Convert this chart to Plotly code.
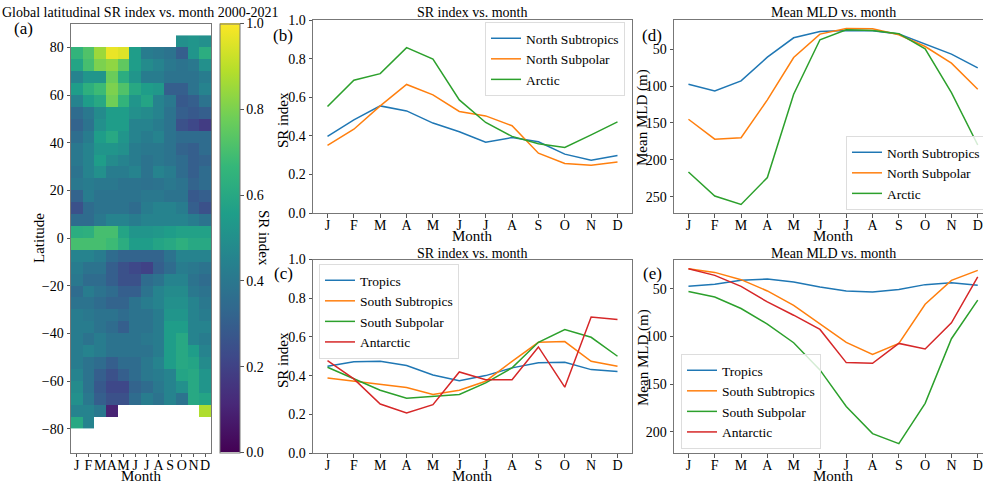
import plotly.graph_objects as go

W, H = 983, 484
FONT = "Liberation Serif, Times New Roman, serif"

months = ["J", "F", "M", "A", "M", "J", "J", "A", "S", "O", "N", "D"]
month_num = list(range(1, 13))
month_idx = list(range(12))

N = None
lat_centers = [82.5 - 5 * i for i in range(33)]
sr_grid = [
    [N, N, N, N, N, N, N, N, N, 0.50, 0.52, 0.50],
    [0.65, 0.72, 0.85, 0.97, 0.95, 0.55, 0.42, 0.40, 0.38, 0.30, 0.52, 0.62],
    [0.58, 0.70, 0.80, 0.83, 0.75, 0.55, 0.48, 0.45, 0.40, 0.38, 0.40, 0.50],
    [0.45, 0.52, 0.52, 0.77, 0.62, 0.52, 0.42, 0.42, 0.38, 0.38, 0.38, 0.42],
    [0.55, 0.63, 0.68, 0.80, 0.72, 0.60, 0.55, 0.53, 0.30, 0.30, 0.38, 0.45],
    [0.45, 0.55, 0.60, 0.78, 0.65, 0.52, 0.58, 0.45, 0.40, 0.28, 0.30, 0.38],
    [0.35, 0.40, 0.48, 0.55, 0.55, 0.50, 0.48, 0.45, 0.38, 0.30, 0.28, 0.30],
    [0.32, 0.38, 0.50, 0.55, 0.55, 0.45, 0.45, 0.42, 0.38, 0.25, 0.22, 0.18],
    [0.36, 0.42, 0.55, 0.60, 0.52, 0.45, 0.42, 0.45, 0.38, 0.35, 0.35, 0.35],
    [0.40, 0.45, 0.52, 0.52, 0.50, 0.42, 0.40, 0.40, 0.38, 0.32, 0.30, 0.35],
    [0.40, 0.45, 0.55, 0.48, 0.45, 0.42, 0.38, 0.40, 0.38, 0.35, 0.30, 0.32],
    [0.38, 0.45, 0.50, 0.42, 0.42, 0.45, 0.38, 0.45, 0.42, 0.35, 0.30, 0.35],
    [0.40, 0.42, 0.40, 0.40, 0.38, 0.38, 0.37, 0.38, 0.40, 0.38, 0.32, 0.35],
    [0.32, 0.42, 0.38, 0.38, 0.38, 0.38, 0.40, 0.40, 0.38, 0.38, 0.28, 0.30],
    [0.25, 0.35, 0.38, 0.38, 0.38, 0.35, 0.42, 0.45, 0.45, 0.42, 0.30, 0.25],
    [0.35, 0.35, 0.40, 0.45, 0.45, 0.42, 0.45, 0.45, 0.45, 0.45, 0.42, 0.38],
    [0.62, 0.63, 0.70, 0.70, 0.58, 0.52, 0.52, 0.53, 0.55, 0.57, 0.57, 0.57],
    [0.70, 0.70, 0.70, 0.68, 0.62, 0.55, 0.55, 0.58, 0.60, 0.63, 0.60, 0.60],
    [0.45, 0.45, 0.42, 0.35, 0.32, 0.32, 0.32, 0.32, 0.38, 0.45, 0.45, 0.45],
    [0.42, 0.38, 0.38, 0.30, 0.25, 0.22, 0.20, 0.30, 0.35, 0.42, 0.40, 0.38],
    [0.40, 0.35, 0.35, 0.30, 0.25, 0.25, 0.35, 0.38, 0.45, 0.45, 0.38, 0.35],
    [0.35, 0.42, 0.38, 0.35, 0.30, 0.30, 0.38, 0.45, 0.48, 0.48, 0.40, 0.38],
    [0.38, 0.38, 0.35, 0.32, 0.32, 0.38, 0.42, 0.45, 0.50, 0.50, 0.45, 0.40],
    [0.42, 0.40, 0.38, 0.38, 0.35, 0.38, 0.38, 0.42, 0.52, 0.52, 0.45, 0.42],
    [0.42, 0.42, 0.38, 0.35, 0.30, 0.38, 0.38, 0.42, 0.55, 0.55, 0.45, 0.45],
    [0.42, 0.38, 0.42, 0.38, 0.38, 0.38, 0.40, 0.42, 0.55, 0.60, 0.45, 0.42],
    [0.42, 0.45, 0.42, 0.38, 0.38, 0.38, 0.38, 0.42, 0.55, 0.60, 0.55, 0.45],
    [0.42, 0.38, 0.35, 0.30, 0.35, 0.35, 0.40, 0.45, 0.55, 0.60, 0.58, 0.48],
    [0.45, 0.38, 0.30, 0.25, 0.30, 0.35, 0.40, 0.42, 0.45, 0.58, 0.60, 0.52],
    [0.48, 0.38, 0.28, 0.22, 0.22, 0.32, 0.35, 0.40, 0.45, 0.50, 0.60, 0.52],
    [0.50, 0.40, 0.30, 0.25, 0.25, 0.35, 0.42, 0.38, 0.45, 0.38, 0.60, 0.58],
    [0.45, 0.45, 0.40, 0.10, N, N, N, N, N, N, N, 0.88],
    [0.60, 0.45, N, N, N, N, N, N, N, N, N, N],
]

# Panel (b): SR index north
sr_north_subtropics = [0.397, 0.483, 0.555, 0.529, 0.466, 0.421, 0.367, 0.391, 0.369, 0.305, 0.274, 0.298]
sr_north_subpolar = [0.350, 0.434, 0.555, 0.666, 0.612, 0.526, 0.503, 0.452, 0.310, 0.257, 0.248, 0.264]
sr_arctic = [0.552, 0.688, 0.722, 0.857, 0.797, 0.586, 0.469, 0.397, 0.359, 0.340, 0.405, 0.472]

# Panel (c): SR index south
sr_tropics = [0.448, 0.472, 0.474, 0.452, 0.403, 0.374, 0.400, 0.440, 0.466, 0.469, 0.431, 0.421]
sr_south_subtropics = [0.388, 0.371, 0.353, 0.338, 0.302, 0.324, 0.371, 0.474, 0.572, 0.576, 0.474, 0.448]
sr_south_subpolar = [0.443, 0.383, 0.324, 0.283, 0.293, 0.302, 0.362, 0.440, 0.572, 0.638, 0.598, 0.500]
sr_antarctic = [0.478, 0.383, 0.253, 0.207, 0.250, 0.419, 0.379, 0.379, 0.548, 0.340, 0.703, 0.690]

# Panel (d): MLD north
mld_north_subtropics = [97.5, 106.6, 93.0, 60.9, 34.6, 26.0, 24.7, 25.0, 29.6, 42.8, 56.8, 75.3]
mld_north_subpolar = [145.0, 172.0, 170.0, 118.8, 61.3, 29.6, 22.0, 22.4, 30.5, 46.4, 69.0, 104.3]
mld_arctic = [216.5, 249.0, 260.4, 224.0, 111.0, 37.3, 23.8, 24.7, 29.0, 49.5, 108.8, 179.9]

# Panel (e): MLD south
mld_tropics = [47.6, 45.5, 41.3, 39.9, 43.0, 48.3, 52.4, 53.5, 51.0, 45.8, 43.8, 46.5]
mld_south_subtropics = [29.2, 33.0, 40.6, 52.4, 67.4, 86.5, 106.3, 118.8, 107.3, 66.3, 41.3, 30.9]
mld_south_subpolar = [53.0, 58.7, 70.8, 87.2, 106.6, 135.0, 173.3, 201.7, 212.2, 170.0, 102.4, 62.0]
mld_antarctic = [29.2, 36.1, 47.6, 63.9, 77.8, 92.7, 127.4, 128.1, 107.3, 113.2, 85.8, 37.8]

C_BLUE, C_ORANGE, C_GREEN, C_RED = "#1f77b4", "#ff7f0e", "#2ca02c", "#d62728"


def px(x):
    return x / W


def py(y):
    return 1 - y / H


fig = go.Figure()

fig.add_trace(go.Heatmap(
    x=month_num, y=lat_centers, z=sr_grid, colorscale="Viridis", zmin=0, zmax=1,
    xaxis="x", yaxis="y", hoverongaps=False,
    colorbar=dict(
        x=px(220), xanchor="left", y=py(452.5), yanchor="bottom", xpad=0, ypad=0,
        len=(452.5 - 23.5) / H, lenmode="fraction", thickness=20, thicknessmode="pixels",
        tickvals=[0, 0.2, 0.4, 0.6, 0.8, 1.0], ticktext=["0.0", "0.2", "0.4", "0.6", "0.8", "1.0"],
        ticks="outside", ticklen=3.5, tickcolor="#555", outlinecolor="#777", outlinewidth=1,
        tickfont=dict(family=FONT, size=14, color="black"),
    ),
))

def add_line(x, y, color, name, xa, ya, legend):
    fig.add_trace(go.Scatter(x=x, y=y, mode="lines", name=name, line=dict(color=color, width=1.5),
                             xaxis=xa, yaxis=ya, legend=legend))

add_line(month_idx, sr_north_subtropics, C_BLUE, "North Subtropics", "x2", "y2", "legend")
add_line(month_idx, sr_north_subpolar, C_ORANGE, "North Subpolar", "x2", "y2", "legend")
add_line(month_idx, sr_arctic, C_GREEN, "Arctic", "x2", "y2", "legend")

add_line(month_idx, sr_tropics, C_BLUE, "Tropics", "x3", "y3", "legend2")
add_line(month_idx, sr_south_subtropics, C_ORANGE, "South Subtropics", "x3", "y3", "legend2")
add_line(month_idx, sr_south_subpolar, C_GREEN, "South Subpolar", "x3", "y3", "legend2")
add_line(month_idx, sr_antarctic, C_RED, "Antarctic", "x3", "y3", "legend2")

add_line(month_idx, mld_north_subtropics, C_BLUE, "North Subtropics", "x4", "y4", "legend3")
add_line(month_idx, mld_north_subpolar, C_ORANGE, "North Subpolar", "x4", "y4", "legend3")
add_line(month_idx, mld_arctic, C_GREEN, "Arctic", "x4", "y4", "legend3")

add_line(month_idx, mld_tropics, C_BLUE, "Tropics", "x5", "y5", "legend4")
add_line(month_idx, mld_south_subtropics, C_ORANGE, "South Subtropics", "x5", "y5", "legend4")
add_line(month_idx, mld_south_subpolar, C_GREEN, "South Subpolar", "x5", "y5", "legend4")
add_line(month_idx, mld_antarctic, C_RED, "Antarctic", "x5", "y5", "legend4")

tickfont = dict(family=FONT, size=14, color="black")
axis_common = dict(showgrid=False, zeroline=False, showline=True, linecolor="#777", linewidth=1,
                   ticks="outside", ticklen=3.5, tickcolor="#555", tickfont=tickfont, tickangle=0,
                   automargin=False)
xaxis_common = dict(axis_common, ticklabelstandoff=-4)

lay = dict(
    template="none",
    width=W, height=H, margin=dict(l=0, r=0, t=0, b=0, pad=0, autoexpand=False),
    paper_bgcolor="white", plot_bgcolor="white", showlegend=True,
    font=dict(family=FONT, size=14, color="black"),
)

# heatmap axes
lay["xaxis"] = dict(xaxis_common, domain=[px(71), px(211)], range=[0.5, 12.5], anchor="y",
                    tickvals=month_num, ticktext=months, mirror=True)
lay["yaxis"] = dict(axis_common, domain=[py(452.5), py(23.5)], range=[-90, 90], anchor="x",
                    tickvals=[-80, -60, -40, -20, 0, 20, 40, 60, 80],
                    ticktext=["\u221280", "\u221260", "\u221240", "\u221220", "0", "20", "40", "60", "80"],
                    mirror=True)

# (b)
lay["xaxis2"] = dict(xaxis_common, domain=[px(313), px(632)], range=[-0.55, 11.55], anchor="y2",
                     tickvals=month_idx, ticktext=months, mirror=True)
lay["yaxis2"] = dict(axis_common, domain=[py(213), py(20)], range=[0, 1.0], anchor="x2",
                     tickvals=[0, 0.2, 0.4, 0.6, 0.8, 1.0], tickformat=".1f", mirror=True)
# (c)
lay["xaxis3"] = dict(xaxis_common, domain=[px(313), px(632)], range=[-0.55, 11.55], anchor="y3",
                     tickvals=month_idx, ticktext=months, mirror=True)
lay["yaxis3"] = dict(axis_common, domain=[py(453), py(259.5)], range=[0, 1.0], anchor="x3",
                     tickvals=[0, 0.2, 0.4, 0.6, 0.8, 1.0], tickformat=".1f", mirror=True)
# (d)
lay["xaxis4"] = dict(xaxis_common, domain=[px(674), 1.0], range=[-0.55, 11.2], anchor="y4",
                     tickvals=month_idx, ticktext=months, mirror=True)
lay["yaxis4"] = dict(axis_common, domain=[py(213), py(20)], range=[272, 10.5], anchor="x4",
                     tickvals=[50, 100, 150, 200, 250])
# (e)
lay["xaxis5"] = dict(xaxis_common, domain=[px(674), 1.0], range=[-0.55, 11.2], anchor="y5",
                     tickvals=month_idx, ticktext=months, mirror=True)
lay["yaxis5"] = dict(axis_common, domain=[py(453), py(259.5)], range=[222, 19.5], anchor="x5",
                     tickvals=[50, 100, 150, 200])

legfont = dict(family=FONT, size=13.5, color="black")
legcommon = dict(font=legfont, bgcolor="rgba(255,255,255,0.8)", bordercolor="#dddddd", borderwidth=1,
                 itemwidth=30, tracegroupgap=0)
lay["legend"] = dict(legcommon, x=px(625), xanchor="right", y=py(22), yanchor="top")
lay["legend2"] = dict(legcommon, x=px(319), xanchor="left", y=py(264), yanchor="top")
lay["legend3"] = dict(legcommon, x=px(846), xanchor="left", y=py(210), yanchor="bottom")
lay["legend4"] = dict(legcommon, x=px(681), xanchor="left", y=py(449), yanchor="bottom")

def ann(x, y, text, size=14, angle=0):
    return dict(x=px(x), y=py(y), xref="paper", yref="paper", text=text, showarrow=False,
                font=dict(family=FONT, size=size, color="black"), textangle=angle,
                xanchor="center", yanchor="middle")

lay["annotations"] = [
    ann(140, 13, "Global latitudinal SR index vs. month 2000-2021", 14),
    ann(472, 13, "SR index vs. month", 14),
    ann(472, 253, "SR index vs. month", 14),
    ann(833, 13, "Mean MLD vs. month", 14),
    ann(833, 253, "Mean MLD vs. month", 14),
    ann(23, 28, "(a)", 17),
    ann(283, 35, "(b)", 17),
    ann(283, 273, "(c)", 17),
    ann(652, 35, "(d)", 17),
    ann(652, 273, "(e)", 17),
    ann(141, 476, "Month", 15),
    ann(472, 236, "Month", 15),
    ann(472, 476, "Month", 15),
    ann(833, 236, "Month", 15),
    ann(833, 476, "Month", 15),
    ann(39, 238, "Latitude", 15, -90),
    ann(264, 238, "SR index", 15, 90),
    ann(283, 120, "SR index", 15, -90),
    ann(283, 360, "SR index", 15, -90),
    ann(643, 118, "Mean MLD (m)", 15, -90),
    ann(643, 358, "Mean MLD (m)", 15, -90),
]

fig.update_layout(**lay)
fig.write_html(
    "out.html",
    config={"displayModeBar": False},
    post_script="document.body.style.margin='0';document.body.style.overflow='hidden';",
)
